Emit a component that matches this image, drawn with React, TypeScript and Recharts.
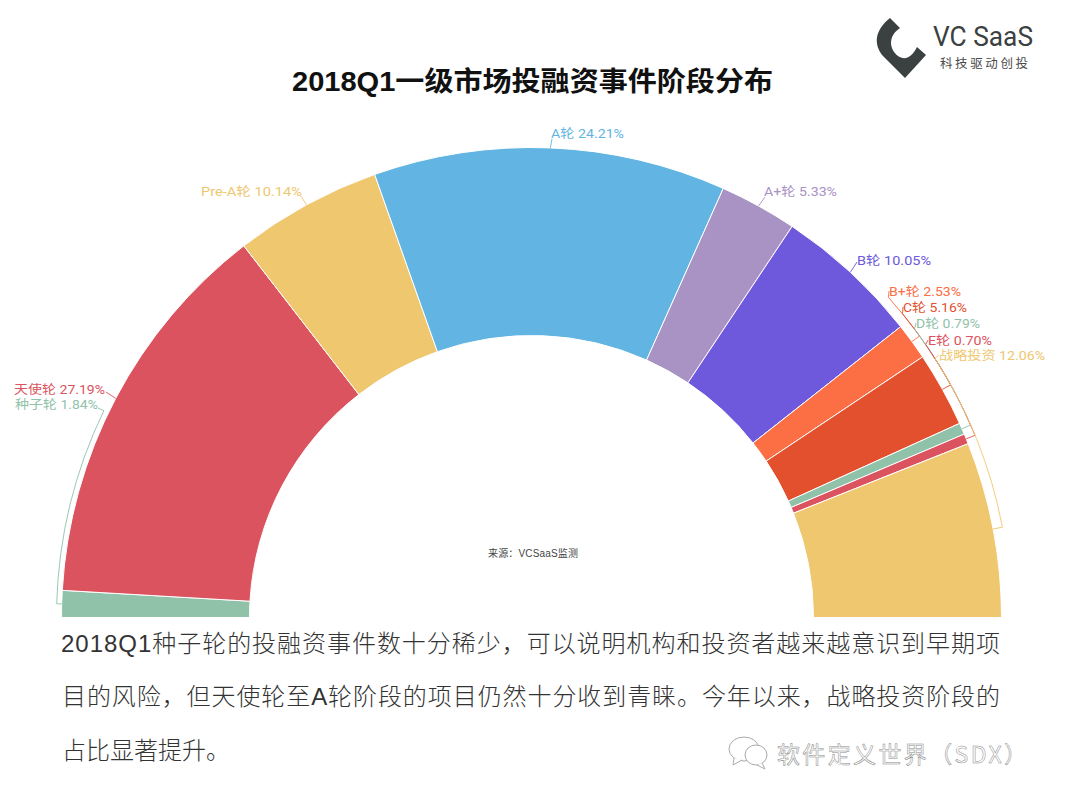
import React from "react";
import { PieChart, Pie, Cell } from "recharts";

const stages = ["种子轮", "天使轮", "Pre-A轮", "A轮", "A+轮", "B轮", "B+轮", "C轮", "D轮", "E轮", "战略投资"];
const shares = [1.84, 27.19, 10.14, 24.21, 5.33, 10.05, 2.53, 5.16, 0.79, 0.7, 12.06];
const colors = ["#8FC2A9", "#DB535E", "#EEC76F", "#62B5E2", "#A992C4", "#6E58DB", "#FC6E44", "#E2502E", "#8FC2A9", "#DB535E", "#EEC76F"];
const tableData = stages.map((name, i) => ({ name, value: shares[i] }));

const titleText = "2018Q1一级市场投融资事件阶段分布";
const sourceText = "来源：VCSaaS监测";
const bodyLines = [
  "2018Q1种子轮的投融资事件数十分稀少，可以说明机构和投资者越来越意识到早期项",
  "目的风险，但天使轮至A轮阶段的项目仍然十分收到青睐。今年以来，战略投资阶段的",
  "占比显著提升。",
];
const logoName = "VC SaaS";
const logoSlogan = "科技驱动创投";
const watermark = "软件定义世界（SDX）";

// Label layout: text box left/centre, plus the angle at which the leader's bracket arc ends (null = straight leader)
const labelX = [15, 14, 201, 551, 764, 857, 889, 903, 916, 928, 939];
const labelY = [404, 389, 191, 133, 191, 260, 291, 307, 323, 340, 355];
const labelW = [83, 91, 101, 73, 73, 74, 72, 64, 64, 64, 106];
const arcEnd: (number | null)[] = [154.2, null, null, null, null, null, 41.9, 39.3, 37, 34.7, 32.7];
const leaderEnd: [number, number][] = [[98, 408], [106, 392], [301, 196], [552, 139], [765, 197], [857, 262], [889, 291], [903, 307], [916, 323], [928, 340], [939, 355]];
const arcGap = [5, 0, 0, 0, 0, 0, 9.5, 9.5, 9.5, 9.5, 9.5];

const RAD = Math.PI / 180;
const FONT = "Roboto, 'Noto Sans CJK SC', sans-serif";
const BODY = "'Liberation Sans', 'Noto Sans CJK SC', sans-serif";

function renderLabel(props: any) {
  const { cx, cy, outerRadius, midAngle, index } = props;
  const i = index as number;
  const pt = (r: number, a: number) => [cx + r * Math.cos(a * RAD), cy - r * Math.sin(a * RAD)];
  const [x0, y0] = pt(outerRadius, midAngle);
  let d = `M${x0},${y0}`;
  const end = arcEnd[i];
  if (end !== null) {
    const r = outerRadius + arcGap[i];
    const [x1, y1] = pt(r, midAngle);
    const [x2, y2] = pt(r, end);
    const sweep = end > midAngle ? 0 : 1;
    d += ` L${x1},${y1} A${r},${r} 0 0 ${sweep} ${x2},${y2}`;
  }
  d += ` L${leaderEnd[i][0]},${leaderEnd[i][1]}`;
  return (
    <g key={i}>
      <path d={d} fill="none" stroke={colors[i]} strokeWidth={1} strokeOpacity={0.9} />
      <text
        x={labelX[i]}
        y={labelY[i]}
        dominantBaseline="central"
        textLength={labelW[i]}
        lengthAdjust="spacingAndGlyphs"
        fontFamily={FONT}
        fontSize={12.5}
        fill={colors[i]}
      >
        {`${stages[i]} ${shares[i].toFixed(2)}%`}
      </text>
    </g>
  );
}

export default function App() {
  return (
    <div style={{ position: "absolute", left: 0, top: 0, width: 1067, height: 800, background: "#fff", overflow: "hidden" }}>
      <div style={{ position: "absolute", left: 0, top: 0 }}>
        <PieChart width={1067} height={800} margin={{ top: 0, right: 0, bottom: 0, left: 0 }}>
          <Pie
            data={tableData}
            dataKey="value"
            nameKey="name"
            cx={531.5}
            cy={617.5}
            innerRadius={282}
            outerRadius={470}
            startAngle={180}
            endAngle={0}
            stroke="#fff"
            strokeWidth={1}
            label={renderLabel}
            labelLine={false}
            isAnimationActive={false}
          >
            {tableData.map((d, i) => (
              <Cell key={d.name} fill={colors[i]} />
            ))}
          </Pie>
        </PieChart>
      </div>
      <svg width={1067} height={800} style={{ position: "absolute", left: 0, top: 0, pointerEvents: "none" }}>
        <text x={292} y={82} dominantBaseline="central" textLength={481} lengthAdjust="spacingAndGlyphs"
          fontFamily={BODY} fontWeight={700} fontSize={27} fill="#111">
          {titleText}
        </text>
        <text x={488} y={553} dominantBaseline="central" textLength={90} fontFamily={BODY} fontSize={10} fill="#444">
          {sourceText}
        </text>
        <text x={61} y={643} dominantBaseline="central" textLength={939} fontFamily={BODY} fontWeight={300} fontSize={24} fill="#333">{bodyLines[0]}</text>
        <text x={62} y={696} dominantBaseline="central" textLength={938} fontFamily={BODY} fontWeight={300} fontSize={24} fill="#333">{bodyLines[1]}</text>
        <text x={62} y={750} dominantBaseline="central" textLength={168} fontFamily={BODY} fontWeight={300} fontSize={24} fill="#333">{bodyLines[2]}</text>

        {/* logo */}
        <path d="M890,18 L900,28 C889,35 888,48 898,56 C905,61 912,57 917,47 L926,55 L905,78 L883,56 C873,44 875,30 890,18 Z" fill="#3B4040" />
        <text x={933} y={37} dominantBaseline="central" textLength={100} lengthAdjust="spacingAndGlyphs" fontFamily="Roboto, sans-serif" fontSize={27} fill="#3B4040">{logoName}</text>
        <text x={940} y={62.5} dominantBaseline="central" textLength={88} fontFamily="'Noto Sans CJK SC', sans-serif" fontSize={12.5} fill="#4a4a4a">{logoSlogan}</text>

        {/* watermark */}
        <g fill="#fff" stroke="#aaa" strokeWidth={1}>
          <ellipse cx={744} cy={749} rx={15} ry={12} />
          <path d="M734,758 L733,765 L742,760" />
          <ellipse cx={756} cy={755} rx={11} ry={10} />
          <path d="M762,763 L765,769 L757,765" />
        </g>
        <text x={777} y={753} dominantBaseline="central" textLength={250}
          fontFamily="'Noto Sans CJK SC', sans-serif" fontSize={23} fill="#fff" stroke="#888" strokeWidth={0.5}>
          {watermark}
        </text>
      </svg>
    </div>
  );
}
